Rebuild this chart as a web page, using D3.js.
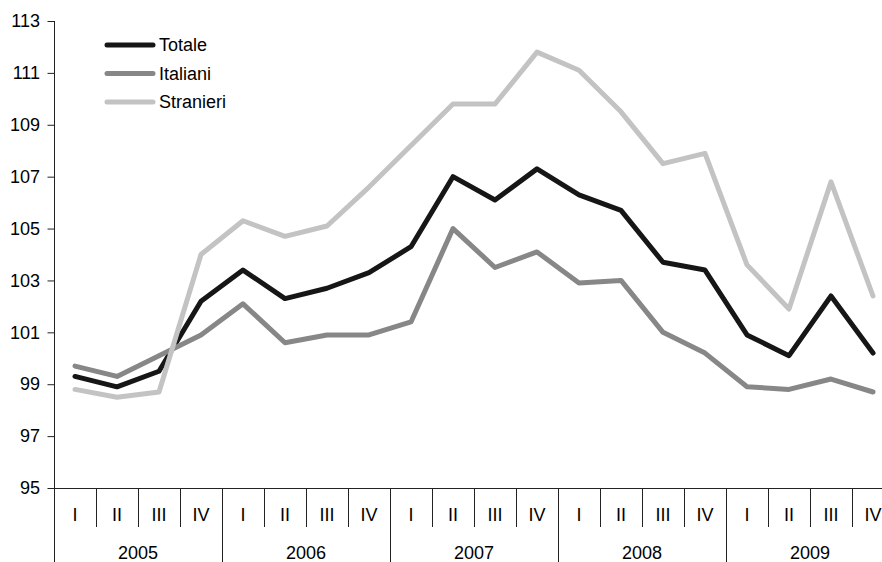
<!DOCTYPE html>
<html>
<head>
<meta charset="utf-8">
<script src="https://cdn.jsdelivr.net/npm/d3@7"></script>
<style>
  html, body { margin: 0; padding: 0; background: #fff; }
  svg { display: block; font-family: "Liberation Sans", Arial, sans-serif; }
</style>
</head>
<body>
<svg id="chart" width="882" height="562"></svg>
<script>
const years = ["2005", "2006", "2007", "2008", "2009"];
const quarters = ["I", "II", "III", "IV"];
const seriesNames = ["Totale", "Italiani", "Stranieri"];
const seriesColors = ["#161616", "#878787", "#c3c3c3"];
const totale    = [99.3, 98.9, 99.5, 102.2, 103.4, 102.3, 102.7, 103.3, 104.3, 107.0, 106.1, 107.3, 106.3, 105.7, 103.7, 103.4, 100.9, 100.1, 102.4, 100.2];
const italiani  = [99.7, 99.3, 100.1, 100.9, 102.1, 100.6, 100.9, 100.9, 101.4, 105.0, 103.5, 104.1, 102.9, 103.0, 101.0, 100.2, 98.9, 98.8, 99.2, 98.7];
const stranieri = [98.8, 98.5, 98.7, 104.0, 105.3, 104.7, 105.1, 106.6, 108.2, 109.8, 109.8, 111.8, 111.1, 109.5, 107.5, 107.9, 103.6, 101.9, 106.8, 102.4];
const yTicks = [95, 97, 99, 101, 103, 105, 107, 109, 111, 113];

(function () {
const seriesData = [totale, italiani, stranieri];
const cats = [];
years.forEach(yr => quarters.forEach(q => cats.push(yr + "-" + q)));

const svg = d3.select("#chart");
const pLeft = 54, pRight = 894, pTop = 21, pBottom = 488;

const x = d3.scaleBand().domain(cats).range([pLeft, pRight]).paddingInner(0).paddingOuter(0);
const y = d3.scaleLinear().domain([95, 113]).range([pBottom, pTop]);

// y axis
const yAxis = svg.append("g")
  .attr("transform", `translate(${pLeft},0)`)
  .call(d3.axisLeft(y).tickValues(yTicks).tickSize(6).tickSizeOuter(0).tickPadding(8).tickFormat(d3.format("d")));
yAxis.select(".domain").remove();
yAxis.selectAll(".tick line").attr("stroke", "#222").attr("x2", -6.5);
yAxis.selectAll(".tick text").attr("font-size", 18).attr("fill", "#000").attr("font-family", "'Liberation Sans', Arial, sans-serif");

// vertical axis line through to the bottom
svg.append("line").attr("x1", pLeft + 0.5).attr("x2", pLeft + 0.5).attr("y1", pTop).attr("y2", 562)
  .attr("stroke", "#222").attr("stroke-width", 1);

// horizontal baseline
svg.append("line").attr("x1", pLeft).attr("x2", pRight).attr("y1", pBottom + 0.5).attr("y2", pBottom + 0.5)
  .attr("stroke", "#222").attr("stroke-width", 1);

// category separators
cats.forEach((c, i) => {
  if (i === 0) return;
  const xx = Math.round(x(c)) + 0.5;
  const isYear = i % 4 === 0;
  svg.append("line").attr("x1", xx).attr("x2", xx).attr("y1", pBottom)
    .attr("y2", isYear ? 562 : 527).attr("stroke", "#222").attr("stroke-width", 1);
});

// quarter labels
svg.append("g").selectAll("text").data(cats).join("text")
  .attr("x", d => x(d) + x.bandwidth() / 2)
  .attr("y", 515)
  .attr("dy", "0.35em")
  .attr("text-anchor", "middle")
  .attr("font-size", 18)
  .attr("fill", "#000")
  .text(d => d.split("-")[1]);

// year labels
svg.append("g").selectAll("text").data(years).join("text")
  .attr("x", d => (x(d + "-I") + x(d + "-IV") + x.bandwidth()) / 2)
  .attr("y", 553)
  .attr("dy", "0.35em")
  .attr("text-anchor", "middle")
  .attr("font-size", 18)
  .attr("fill", "#000")
  .text(d => d);

// lines
const line = d3.line()
  .x((d, i) => x(cats[i]) + x.bandwidth() / 2)
  .y(d => y(d));

seriesData.forEach((vals, k) => {
  svg.append("path")
    .datum(vals)
    .attr("d", line)
    .attr("fill", "none")
    .attr("stroke", seriesColors[k])
    .attr("stroke-width", 5)
    .attr("stroke-linejoin", "round")
    .attr("stroke-linecap", "round");
});

// legend
const legend = svg.append("g");
seriesNames.forEach((name, k) => {
  const ly = 45 + k * 28.5;
  legend.append("line").attr("x1", 107).attr("x2", 153).attr("y1", ly).attr("y2", ly)
    .attr("stroke", seriesColors[k]).attr("stroke-width", 5).attr("stroke-linecap", "round");
  legend.append("text").attr("x", 159).attr("y", ly).attr("dy", "0.35em")
    .attr("font-size", 18).attr("fill", "#000").text(name);
});
})();
</script>
</body>
</html>
